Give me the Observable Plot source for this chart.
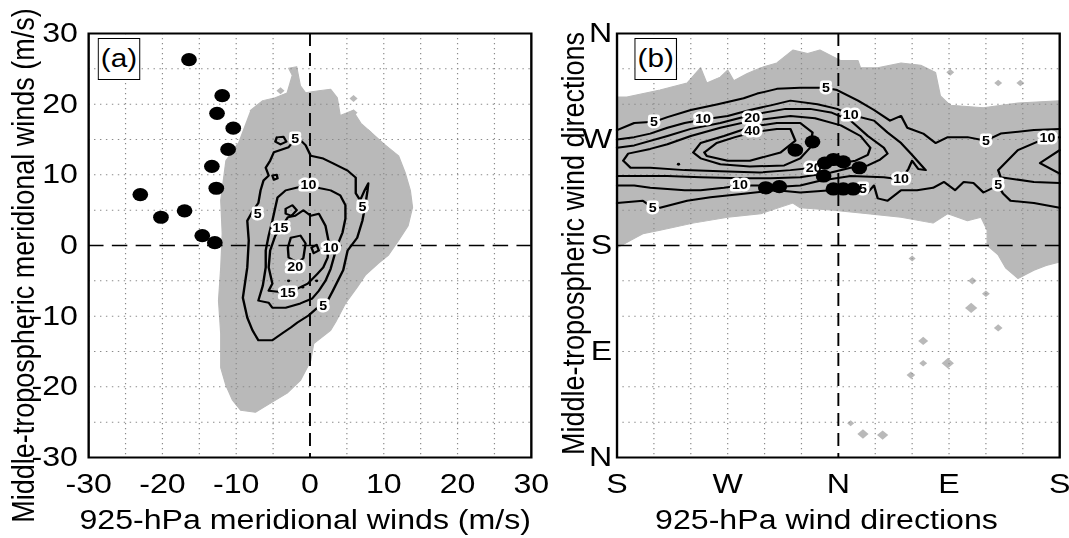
<!DOCTYPE html>
<html>
<head>
<meta charset="utf-8">
<script src="https://cdn.jsdelivr.net/npm/d3@7"></script>
<script src="https://cdn.jsdelivr.net/npm/@observablehq/plot@0.6"></script>
<style>
  html, body { margin: 0; padding: 0; background: #fff; overflow: hidden; }
  /* the figure is laid out at its natural width and widened horizontally */
  #stage { position: absolute; left: 0; top: 0; width: 898px; height: 538px;
           transform: scaleX(1.19); transform-origin: 0 0;
           font-family: "Liberation Sans", Arial, Helvetica, sans-serif; color: #000; }
  #stage svg { position: absolute; top: 0; overflow: visible; }
  .tag { position: absolute; top: 38px; width: 36px; height: 42px; box-sizing: border-box;
         border: 1.6px solid #000; background: #fff; font-size: 25px; line-height: 39px; text-align: center; }
</style>
</head>
<body>
<div id="stage">
  <div class="tag" style="left:82px">(a)</div>
  <div class="tag" style="left:533px">(b)</div>
</div>
<script>
// ---------- panel (a): meridional winds, m/s ----------
const windTicks = [-30, -20, -10, 0, 10, 20, 30];
const windGrid = [-25, -20, -15, -10, -5, 5, 10, 15, 20, 25];
const calmA = [0];

// region of non-zero frequency
const shadeA = [[-8.1,19.1],[-6.4,20.5],[-4.7,20.9],[-3.1,21.6],[-2.4,24.1],[-2.9,25.1],[-1.8,25.3],[-1.3,22.6],[-0.6,21.6],[1.2,21.9],[2.8,22.1],[3.7,20.9],[4.1,18.4],[5.8,19.1],[6.9,17.3],[8.5,15.8],[10.0,14.4],[12.0,12.7],[12.9,10.3],[13.6,7.8],[13.9,5.4],[13.3,2.8],[12.0,0.7],[10.6,-1.4],[9.3,-2.5],[7.5,-4.2],[6.4,-5.9],[4.8,-8.2],[3.6,-10.6],[2.8,-12.0],[0.5,-13.9],[0.1,-16.3],[-1.3,-19.1],[-3.1,-20.9],[-5.8,-22.6],[-7.4,-23.6],[-9.4,-23.3],[-10.5,-21.9],[-11.4,-19.8],[-12.1,-17.3],[-12.1,-12.5],[-12.4,-7.8],[-12.1,-3.1],[-11.9,1.7],[-12.1,6.4],[-11.4,12.0],[-9.8,14.4]];
// isolated shaded cells: x, y, size
const speckA = [[-4.0,21.9,3],[5.9,20.8,3],[5.9,18.8,3],[7.9,16.0,2.5]];

// frequency contours
const contourA5 = [[-2.0,15.1],[-2.9,13.9],[-4.9,13.2],[-5.4,12.0],[-6.0,11.0],[-5.6,9.9],[-6.3,9.2],[-6.7,7.8],[-7.0,6.0],[-7.7,5.0],[-8.5,3.5],[-8.3,0.7],[-8.5,-3.1],[-9.1,-7.4],[-8.5,-10.2],[-7.8,-12.0],[-7.0,-13.4],[-5.1,-13.4],[-3.6,-12.3],[-2.6,-11.6],[-1.7,-10.9],[-0.2,-9.9],[1.0,-8.8],[2.4,-7.8],[3.1,-6.4],[4.5,-3.5],[5.1,-0.7],[6.4,1.1],[7.1,3.5],[7.5,5.7],[7.8,7.8],[7.9,8.8],[7.4,7.8],[6.8,6.4],[6.2,7.4],[6.2,9.6],[5.1,10.6],[3.2,11.6],[1.8,12.3],[0.1,12.7],[-0.6,14.2],[-1.3,14.9],[-2.0,15.1]];
const contourA10 = [[-0.2,8.5],[-1.7,8.2],[-3.3,7.8],[-4.4,6.8],[-4.7,5.4],[-5.1,3.5],[-5.6,1.4],[-6.0,-0.7],[-6.0,-3.1],[-6.4,-5.7],[-7.0,-7.8],[-5.6,-8.1],[-5.1,-8.8],[-3.3,-8.8],[-1.3,-8.2],[0.3,-7.5],[1.2,-6.4],[2.1,-5.0],[2.8,-3.3],[3.2,-1.8],[3.7,0.0],[4.4,1.8],[4.8,3.8],[4.8,5.7],[4.1,7.1],[2.8,7.8],[1.4,8.1],[-0.2,8.5]];
const contourA15 = [[-4.0,2.4],[-4.7,1.4],[-5.4,-0.7],[-5.6,-3.1],[-5.1,-5.4],[-5.6,-6.4],[-3.0,-6.7],[-1.7,-6.1],[-0.3,-5.4],[1.0,-4.0],[1.8,-3.1],[2.4,-1.7],[2.5,0.7],[2.1,2.8],[1.2,4.5],[0.1,4.2],[-0.9,5.0],[-2.0,4.2],[-3.0,4.0],[-4.0,2.4]];
const contourA20 = [[-2.6,1.1],[-1.3,1.4],[-0.6,0.3],[-0.9,-1.8],[-1.7,-2.4],[-2.9,-1.7],[-3.0,-0.3],[-2.6,1.1]];
const loopsA = [
  [[-4.5,15.3],[-3.6,15.4],[-3.2,14.7],[-4.0,14.3],[-4.7,14.7],[-4.5,15.3]],
  [[-5.1,9.9],[-4.5,10.0],[-4.4,9.5],[-4.9,9.3],[-5.1,9.9]],
  [[-3.3,5.2],[-2.4,5.7],[-1.8,5.0],[-2.5,4.2],[-3.3,4.5],[-3.3,5.2]],
  [[0.2,-0.3],[0.9,0.1],[1.2,-0.7],[0.5,-1.1],[0.2,-0.3]]
];
const labelsA = [[-2.0,15.1,"5"],[-7.1,4.5,"5"],[1.8,-8.6,"5"],[7.1,5.4,"5"],[-0.2,8.5,"10"],[2.8,-0.4,"10"],[-4.0,2.4,"15"],[-3.0,-6.7,"15"],[-2.0,-3.1,"20"]];
const peaksA = [[-2.9,-5.0],[-1.0,-5.9],[0.9,-5.0]];

// individual cases
const casesAx = [-16.4, -11.9, -12.6, -10.4, -11.1, -13.3, -12.7, -23.0, -20.2, -17.0, -14.6, -12.9];
const casesAy = [26.3, 21.2, 18.7, 16.6, 13.6, 11.2, 8.1, 7.2, 4.0, 4.9, 1.4, 0.4];

// ---------- panel (b): wind directions, degrees ----------
const dirXTicks = [180, 270, 360, 450, 540];
const dirXNames = ["S", "W", "N", "E", "S"];
const dirYTicks = [0, 90, 180, 270, 360];
const dirYNames = ["N", "E", "S", "W", "N"];
const dirXGrid = [210, 240, 300, 330, 390, 420, 480, 510, 270, 450];
const dirYGrid = [30, 60, 90, 120, 150, 210, 240, 270, 300, 330];
const northB = [360];
const southB = [180];

const shadeB = [[180,306],[188,306],[215,312],[237,318],[248,331],[253,318],[264,323],[270,329],[275,320],[286,326],[297,331],[310,335],[323,346],[335,343],[345,346],[362,337],[376,337],[378,331],[392,331],[411,335],[427,333],[439,327],[443,307],[451,299],[478,297],[506,301],[540,303],[540,166],[529,163],[519,159],[506,152],[496,161],[490,172],[481,180],[481,193],[476,204],[465,201],[449,207],[437,199],[411,204],[384,207],[356,210],[329,212],[323,216],[297,207],[270,204],[242,199],[215,193],[201,190],[187,182],[180,178]];
const speckB = [[469,150,3],[480,139,2.5],[468,127,6],[490,110,3],[429,99,4],[429,80,2.5],[449,80,6],[419,70,3],[370,29,2],[380,20,5],[396,19,5],[420,169,2],[451,327,2.5],[490,318,2.5],[508,318,2.5]];

const contourB5top = [[180,278],[194,284],[210,285],[221,289],[240,295],[262,300],[283,305],[294,309],[310,313],[329,314],[349,314],[359,312],[376,303],[389,295],[402,286],[411,290],[416,280],[429,275],[439,267],[449,272],[465,272],[480,269],[492,275],[519,278],[540,279]];
const contourB5bottom = [[180,216],[201,218],[209,212],[215,212],[237,218],[256,221],[283,224],[310,227],[329,225],[354,227],[380,228],[384,225],[389,231],[392,220],[400,218],[411,227],[424,227],[437,229],[446,234],[455,227],[462,234],[470,233],[478,225],[490,231],[494,224],[500,218],[519,216],[540,212]];
const contourB10 = [[180,270],[194,272],[207,275],[221,280],[235,284],[250,287],[270,290],[288,295],[305,299],[321,303],[343,300],[359,296],[370,291],[389,286],[400,276],[411,267],[419,258],[431,244],[425,245],[420,252],[417,245],[411,236],[397,238],[370,239],[345,235],[329,231],[316,230],[294,231],[280,231],[267,229],[248,227],[235,227],[207,229],[194,231],[180,231]];
const contourB15 = [[180,263],[194,265],[221,273],[240,279],[264,284],[290,291],[317,296],[337,296],[354,293],[370,286],[384,273],[397,263],[400,258],[394,253],[384,248],[370,246],[354,242],[329,238],[305,237],[280,237],[248,238],[221,239],[194,239],[180,239]];
const contourB20 = [[185,252],[189,258],[207,262],[221,266],[240,273],[264,280],[290,286],[321,290],[341,288],[362,282],[378,273],[386,263],[384,257],[374,252],[362,250],[340,246],[321,244],[296,242],[264,243],[235,244],[207,246],[191,246],[185,252]];
const contourB30 = [[242,259],[248,267],[267,273],[290,281],[310,284],[329,284],[339,276],[337,263],[329,254],[316,248],[288,247],[264,249],[248,254],[242,259]];
const contourB40 = [[251,259],[261,267],[276,272],[290,276],[310,279],[321,279],[325,269],[313,259],[288,252],[270,252],[253,256],[251,259]];
const contourB10east = [[540,272],[530,271],[524,269],[506,261],[490,244],[492,238],[519,234],[540,233]];
const contourB20east = [[540,261],[524,250],[540,241]];
const labelsB = [[210,285,"5"],[350,314,"5"],[480,269,"5"],[209,212,"5"],[380,228,"5"],[490,231,"5"],[250,287,"10"],[370,291,"10"],[411,236,"10"],[280,231,"10"],[530,271,"10"],[290,288,"20"],[340,246,"20"],[290,277,"40"]];
const peaksB = [[230,249]];

const casesBx = [325, 339, 349, 356, 364, 377, 348, 301, 312, 356, 364, 372];
const casesBy = [261, 268, 250, 253, 251, 246, 239, 229, 230, 228, 228, 228];

// ---------- shared styling ----------
const SHADE = "#b9b9b9";
const FONT = "'Liberation Sans', Arial, Helvetica, sans-serif";
const gridStyle = {stroke: "#8a8a8a", strokeWidth: 1, strokeDasharray: "1.2,3.8"};
const dashStyle = {stroke: "#000", strokeWidth: 1.6, strokeDasharray: "13,7"};
const px = d => d[0], py = d => d[1];

function rows(lines) {
  return lines.flatMap((pts, k) => pts.map(p => ({x: p[0], y: p[1], k})));
}

function contourLabels(labels) {
  return [
    Plot.text(labels, {x: px, y: py, text: d => d[2], fontSize: 12, fontWeight: "bold",
                       fill: "#fff", stroke: "#fff", strokeWidth: 5, strokeLinejoin: "round"}),
    Plot.text(labels, {x: px, y: py, text: d => d[2], fontSize: 12, fontWeight: "bold", fill: "#000"})
  ];
}

function casesOf(xs, ys) { return xs.map((x, i) => [x, ys[i]]); }

const plotA = Plot.plot({
  width: 460, height: 538,
  marginLeft: 74, marginRight: 14, marginTop: 33, marginBottom: 81,
  style: {fontFamily: FONT, fontSize: "27px", color: "#000", background: "transparent", overflow: "visible"},
  x: {domain: [-30, 30], ticks: windTicks, tickSize: 0, tickPadding: 16, tickFormat: d => String(d), label: null},
  y: {domain: [-30, 30], ticks: windTicks, tickSize: 0, tickPadding: 9, tickFormat: d => String(d), label: null},
  marks: [
    Plot.line(shadeA, {x: px, y: py, fill: SHADE, stroke: SHADE, strokeWidth: 1}),
    Plot.dot(speckA, {x: px, y: py, r: d => d[2], symbol: "diamond2", fill: SHADE}),
    Plot.ruleX(windGrid, gridStyle),
    Plot.ruleY(windGrid, gridStyle),
    Plot.ruleX(calmA, dashStyle),
    Plot.ruleY(calmA, dashStyle),
    Plot.line(rows([contourA5, contourA10, contourA15, contourA20, ...loopsA]),
              {x: "x", y: "y", z: "k", stroke: "#000", strokeWidth: 2}),
    Plot.dot(peaksA, {x: px, y: py, r: 1.4, fill: "#000"}),
    ...contourLabels(labelsA),
    Plot.dot(casesOf(casesAx, casesAy), {x: px, y: py, r: 6.6, fill: "#000"}),
    Plot.frame({stroke: "#000", strokeWidth: 2}),
    Plot.text(["Middle-tropospheric meridional winds (m/s)"],
              {text: d => d, frameAnchor: "left", textAnchor: "middle", rotate: -90, lineAnchor: "bottom",
               dx: -46, dy: 20, fontSize: 27}),
    Plot.text(["925-hPa meridional winds (m/s)"],
              {text: d => d, frameAnchor: "bottom", textAnchor: "middle", lineAnchor: "bottom", dx: -4, dy: 71, fontSize: 27})
  ]
});

const plotB = Plot.plot({
  width: 438, height: 538,
  marginLeft: 58, marginRight: 8, marginTop: 33, marginBottom: 81,
  style: {fontFamily: FONT, fontSize: "27px", color: "#000", background: "transparent", overflow: "visible"},
  x: {domain: [180, 540], ticks: dirXTicks, tickSize: 0, tickPadding: 16,
      tickFormat: d => dirXNames[dirXTicks.indexOf(d)], label: null},
  y: {domain: [0, 360], ticks: dirYTicks, tickSize: 0, tickPadding: 4,
      tickFormat: d => dirYNames[dirYTicks.indexOf(d)], label: null},
  marks: [
    Plot.line(shadeB, {x: px, y: py, fill: SHADE, stroke: SHADE, strokeWidth: 1}),
    Plot.dot(speckB, {x: px, y: py, r: d => d[2], symbol: "diamond2", fill: SHADE}),
    Plot.ruleX(dirXGrid, gridStyle),
    Plot.ruleY(dirYGrid, gridStyle),
    Plot.ruleX(northB, dashStyle),
    Plot.ruleY(southB, dashStyle),
    Plot.line(rows([contourB5top, contourB5bottom, contourB10, contourB15, contourB20, contourB30, contourB40, contourB10east, contourB20east]),
              {x: "x", y: "y", z: "k", stroke: "#000", strokeWidth: 2}),
    Plot.dot(peaksB, {x: px, y: py, r: 1.4, fill: "#000"}),
    ...contourLabels(labelsB),
    Plot.dot(casesOf(casesBx, casesBy), {x: px, y: py, r: 6.6, fill: "#000"}),
    Plot.frame({stroke: "#000", strokeWidth: 2}),
    Plot.text(["Middle-tropospheric wind directions"],
              {text: d => d, frameAnchor: "left", textAnchor: "middle", rotate: -90, lineAnchor: "bottom",
               dx: -28, dy: -2, fontSize: 27}),
    Plot.text(["925-hPa wind directions"],
              {text: d => d, frameAnchor: "bottom", textAnchor: "middle", lineAnchor: "bottom", dx: -10, dy: 71, fontSize: 27})
  ]
});

const stage = document.getElementById("stage");
plotA.style.left = "0px";
plotB.style.left = "460px";
stage.insertBefore(plotB, stage.firstChild);
stage.insertBefore(plotA, stage.firstChild);
</script>
</body>
</html>
